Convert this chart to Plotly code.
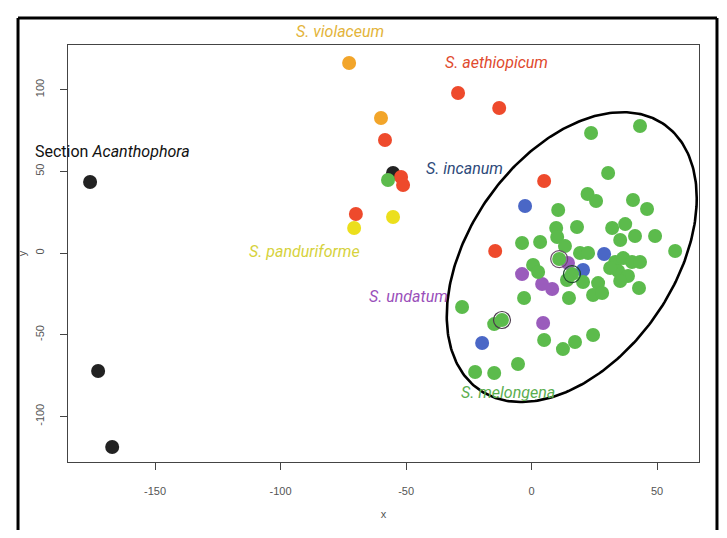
import numpy as np
import plotly.graph_objects as go

# ---------------- data ----------------
green_x = [23.7, 43.2, 30.5, 22.3, 25.7, 40.4, 46.0, 10.6, 18.1, 32.1, 37.3, 35.3, 41.2, 49.2,
           9.8, 10.2, -3.8, 3.4, 13.3, 19.3, 22.5, 57.2, 11.0, 0.6, 2.6, 16.1, 20.5, 14.1, 26.5,
           24.5, 28.1, 42.8, -3.0, 14.9, -27.7, -11.8, -14.9, 5.0, 17.3, 24.5, 12.5, -5.4,
           -22.5, -14.9, 33.3, 36.5, 40.0, 43.2, 34.5, 38.4, 35.3, 31.3, -57.2]
green_y = [73.4, 77.7, 49.0, 36.1, 31.8, 32.4, 26.9, 26.3, 15.9, 15.3, 17.7, 8.0, 10.4, 10.4,
           15.3, 9.8, 6.1, 6.7, 4.3, 0.0, 0.0, 1.2, -3.7, -7.3, -11.6, -12.9, -17.7, -16.5, -18.4,
           -25.7, -24.5, -21.4, -27.5, -27.5, -33.0, -41.0, -43.5, -53.2, -54.5, -50.2, -58.8, -67.9,
           -72.8, -73.4, -5.5, -3.1, -5.5, -5.5, -11.0, -14.1, -17.1, -9.2, 44.7]

red_x = [-29.3, -12.9, -58.4, -52.0, -51.2, -70.0, 5.0, -14.5]
red_y = [97.9, 88.7, 69.2, 46.5, 41.6, 23.9, 44.1, 1.2]

orange_x = [-72.7, -60.0]
orange_y = [116.3, 82.6]

yellow_x = [-70.7, -55.2]
yellow_y = [15.3, 22.0]

black_x = [-175.9, -172.7, -167.1, -55.2]
black_y = [43.5, -72.2, -118.7, 49.0]

blue_x = [-2.6, 28.9, 20.5, -19.7]
blue_y = [28.8, -0.6, -10.4, -55.1]

purple_x = [-3.8, 4.2, 8.2, 4.6, 14.5]
purple_y = [-12.9, -19.0, -22.0, -42.8, -6.1]

ring_x = [11.0, 16.1, -11.8]
ring_y = [-3.7, -12.9, -41.0]
ring_colors = ["#6b4d6b", "#1e4a2a", "#4a3a4a"]

# ellipse parameters (data units)
ell_cx, ell_cy = 16.0, -2.5
ell_sx, ell_sy, ell_rho = 49.8, 88.7, 0.406

x_ticks = [-150, -100, -50, 0, 50]
y_ticks = [-100, -50, 0, 50, 100]
x_range = [-184.7, 66.7]
y_range = [-127.9, 127.3]

# ---------------- figure ----------------
fig = go.Figure()

def pts(x, y, color, size=14):
    fig.add_trace(go.Scatter(x=x, y=y, mode="markers",
                             marker=dict(color=color, size=size, line=dict(width=0)),
                             hoverinfo="skip", showlegend=False, cliponaxis=False))

pts(orange_x, orange_y, "#f2a52a")
pts(yellow_x, yellow_y, "#ecdf1c")
pts(black_x, black_y, "#222222")
pts(blue_x, blue_y, "#4a67c6")
pts(red_x, red_y, "#ee4a2c")
pts(purple_x, purple_y, "#9a5cbc")
pts(green_x, green_y, "#5cbb4c")

fig.add_trace(go.Scatter(x=ring_x, y=ring_y, mode="markers",
                         marker=dict(symbol="circle-open", size=17, color=ring_colors,
                                     line=dict(width=1.2)),
                         hoverinfo="skip", showlegend=False))

# ellipse
t = np.linspace(0, 2 * np.pi, 300)
l11 = ell_sx
l21 = ell_rho * ell_sy
l22 = ell_sy * np.sqrt(1 - ell_rho ** 2)
ex = ell_cx + l11 * np.cos(t)
ey = ell_cy + l21 * np.cos(t) + l22 * np.sin(t)
fig.add_trace(go.Scatter(x=ex, y=ey, mode="lines", line=dict(color="black", width=2.6),
                         hoverinfo="skip", showlegend=False))

labels = [
    ("S. aethiopicum", -14.1, 116.3, "#e04a2e"),
    ("S. incanum", -26.9, 52.0, "#2e4a7a"),
    ("S. panduriforme", -90.6, 1.2, "#d6d23c"),
    ("S. undatum", -49.2, -26.9, "#9a4fba"),
    ("S. melongena", -9.4, -85.1, "#5aae50"),
]
for txt, x, y, c in labels:
    fig.add_annotation(x=x, y=y, text="<i>" + txt + "</i>", showarrow=False,
                       xanchor="center", yanchor="middle",
                       font=dict(family="Roboto", size=16, color=c))
# label above the plotting frame (paper coordinates)
fig.add_annotation(xref="paper", yref="paper", x=(340 - 68) / 631, y=(462 - 32) / 417,
                   xanchor="center", yanchor="middle",
                   text="<i>S. violaceum</i>", showarrow=False,
                   font=dict(family="Roboto", size=16, color="#e3b43a"))
fig.add_annotation(x=-167.1, y=62.4, text="Section <i>Acanthophora</i>", showarrow=False,
                   xanchor="center", yanchor="middle",
                   font=dict(family="Roboto", size=16, color="#111111"))

axis_common = dict(showgrid=False, zeroline=False, showline=True, mirror=True, automargin=False,
                   linecolor="#444444", linewidth=1, ticks="outside", ticklen=7,
                   tickcolor="#444444", tickfont=dict(family="Liberation Sans", size=11, color="#555555"))

fig.update_xaxes(range=x_range, tickvals=x_ticks, ticktext=[str(v) for v in x_ticks],
                 ticklabelstandoff=12,
                 title=dict(text="x", font=dict(family="Liberation Sans", size=11, color="#555555"),
                            standoff=14), **axis_common)
fig.update_yaxes(range=y_range, tickvals=y_ticks, ticktext=[str(v) for v in y_ticks],
                 tickangle=-90, ticklabelstandoff=12,
                 title=dict(text="y", font=dict(family="Liberation Sans", size=11, color="#555555"),
                            standoff=4), **axis_common)

# outer black frame: left, top and right edges only (open at the bottom)
fx0, fx1, fy_top, fy_bot = -0.0792, 1.0285, 1.0647, -0.2
for (a, b, c, d) in [(fx0, fy_bot, fx0, fy_top), (fx0, fy_top, fx1, fy_top), (fx1, fy_top, fx1, fy_bot)]:
    fig.add_shape(type="line", xref="paper", yref="paper", x0=a, y0=b, x1=c, y1=d,
                  line=dict(color="black", width=3), layer="below")

# page body has an 8px margin: size the figure so it fills the 727x538 window exactly
fig.update_layout(width=711, height=522, margin=dict(l=60, r=20, t=37, b=68),
                  plot_bgcolor="white", paper_bgcolor="white")

fig.write_html("out.html")
